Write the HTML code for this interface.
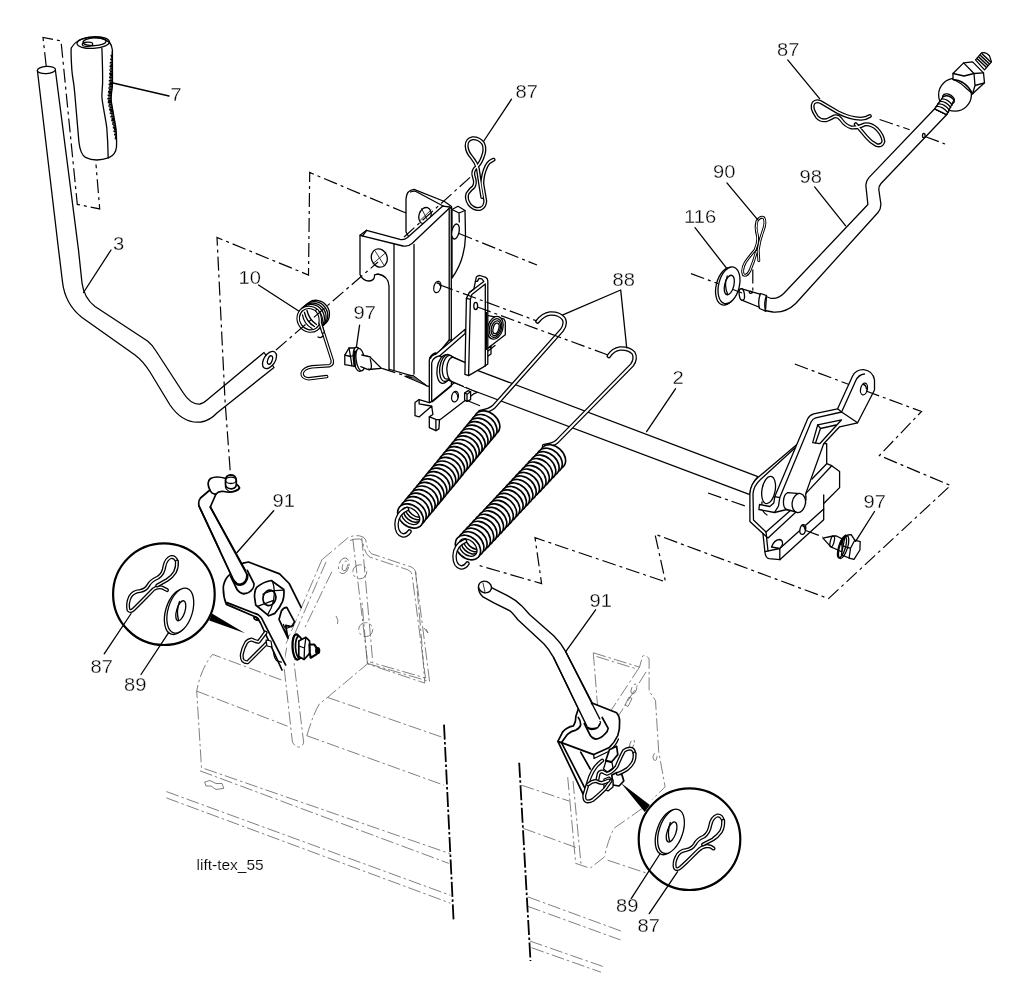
<!DOCTYPE html>
<html lang="en"><head><meta charset="utf-8"><title>lift-tex_55</title>
<style>
html,body{margin:0;padding:0;background:#fff;}
body{width:1024px;height:1003px;overflow:hidden;font-family:"Liberation Sans",sans-serif;}
svg{display:block;position:absolute;left:0;top:0;filter:grayscale(1);}
.l{fill:none;stroke:#000;stroke-width:1.3;stroke-linecap:round;stroke-linejoin:round;}
.f{fill:#fff;stroke:#000;stroke-width:1.3;stroke-linecap:round;stroke-linejoin:round;}
.b{fill:#fff;stroke:#000;stroke-width:1.7;stroke-linecap:round;stroke-linejoin:round;}
.lb{fill:none;stroke:#000;stroke-width:1.7;stroke-linecap:round;stroke-linejoin:round;}
.sp{fill:#fff;stroke:#000;stroke-width:1.65;}
.k{fill:#000;stroke:none;}
.t{fill:none;stroke:#000;stroke-width:0.8;stroke-linecap:round;}
.dd{fill:none;stroke:#000;stroke-width:1.2;stroke-dasharray:14 4 3 4;}
.g{fill:none;stroke:#555;stroke-width:0.75;stroke-dasharray:13 3 2.5 3;}
.gs{fill:none;stroke:#555;stroke-width:0.75;}
.bd{fill:none;stroke:#000;stroke-width:1.8;stroke-dasharray:15 2.5 2.5 2.5;}
.wo{fill:none;stroke:#000;stroke-width:4;stroke-linecap:round;stroke-linejoin:round;}
.wi{fill:none;stroke:#fff;stroke-width:1.4;stroke-linecap:round;stroke-linejoin:round;}
.so{fill:none;stroke:#000;stroke-width:4.6;stroke-linecap:round;stroke-linejoin:round;}
.si{fill:none;stroke:#fff;stroke-width:2;stroke-linecap:round;stroke-linejoin:round;}
text{font-family:"Liberation Sans",sans-serif;fill:#000;stroke:#fff;stroke-width:0.3px;}
.n{font-size:18px;}
.c{font-size:15.5px;stroke-width:0.15px;}
</style></head><body>
<svg width="1024" height="1003" viewBox="0 0 1024 1003">
<rect x="0" y="0" width="1024" height="1003" fill="#fff"/>

<!-- 01_ghost.svg -->
<g id="ghost">
<!-- left deck -->
<path class="g" d="M281.200,679.900 L212.600,654.400 Q201,668 196.700,691.100 L201.500,767.600 L450.400,853.800"/>
<path class="g" d="M196.700,691.100 L287.600,726.200"/>
<path class="g" d="M306.800,735.700 L444,785.200"/>
<path class="g" d="M327.500,697.400 L442.400,737.300"/>
<path class="g" d="M306.800,735.700 Q314,712 319.500,703.800 L327.500,697.400 L367.400,663.900 L424.800,683.100 L421.600,640 L415.600,571.800"/>
<path class="g" d="M367.400,663.900 L361.800,600"/>
<path class="g" d="M199.900,770.800 L448.800,863.400"/>
<path class="g" d="M166.400,791.600 L450.400,895.300"/>
<path class="g" d="M166.400,797.900 L450.400,903.200"/>
<path class="gs" d="M204.700,782 L210,780.500 L216,783.500 L222,783.500 L223.800,788.400 L216,789.500 L211,786 L206,786 Z"/>
<!-- ghost vertical plate left -->
<path class="g" d="M286.700,647.700 L283.700,663.700 L292.400,742.100 Q296,748 300.400,746.900 Q303.500,745 303.600,742.100 L294,662.300 L299,648"/>
<!-- ghost plate upper -->
<path class="g" d="M321.900,559.800 L347.800,537.900 Q353,535 359.800,535.900 Q365,537 365.700,539.900 Q367,550 371.700,553.800 L407.600,565.800 Q414,567 415.600,571.800 L429.600,681.500 L367.700,663.500"/>
<path class="g" d="M321.900,559.800 L286,643.600 M331.800,571.800 L303.900,629.600 M326,562 L292,640"/>
<path class="g" d="M352.800,538.900 L367.700,663.500 M361.800,537.900 L372.700,661.500"/>
<ellipse class="g" cx="343.800" cy="565.800" rx="5" ry="8" transform="rotate(15 343.800 565.800)"/>
<ellipse class="g" cx="345" cy="566" rx="2.500" ry="5" transform="rotate(15 345 566)"/>
<circle class="g" cx="359.800" cy="571.800" r="7"/>
<circle class="g" cx="365.700" cy="629.600" r="7"/>
<path class="gs" d="M336,616 Q339,620 337.500,624"/>
<path class="gs" d="M424,628 L428,633 L426,629"/>
<!-- right deck -->
<path class="g" d="M521.500,785.200 L569.300,801.100"/>
<path class="g" d="M523.100,828.300 L575.700,847.400"/>
<path class="g" d="M607.600,860.200 L645.900,872.900"/>
<path class="g" d="M527.900,896.900 L623.600,932"/>
<path class="g" d="M527.900,906.400 L620.400,939.900"/>
<path class="g" d="M529.800,941 L602.700,966.400"/>
<path class="g" d="M531.500,947.700 L601,972.200"/>
<path class="g" d="M567.700,777.200 L575.700,863.400 L590.100,868.200 L604.400,857 Q608,840 614,828.300 L645.900,805.900"/>
<path class="g" d="M573,781 L581,864"/>
<path class="g" d="M593.300,652.800 L639.500,667.100 L642.700,656 Q646,654 649.100,659.100 L649.100,691.100 L655.500,700.600 L658.700,751.700 L665.100,786.800 L652.300,799.500"/>
<path class="g" d="M593.300,652.800 L597.500,705"/>
<path class="g" d="M639.500,667.100 L610,712 M646,672 L619,715"/>
<ellipse class="g" cx="634" cy="689" rx="2.500" ry="5" transform="rotate(20 634 689)"/>
<ellipse class="g" cx="632" cy="744" rx="2" ry="4.500" transform="rotate(20 632 744)"/>
<ellipse class="g" cx="655" cy="757" rx="2" ry="3.500"/>
<!-- bold -->
<path class="bd" d="M444,724.600 L453.600,920.800"/>
<path class="bd" d="M519.200,762.800 L530.500,961"/>
<!-- doubled ghost edges -->
<path class="g" d="M350,540.500 Q354,538.500 359.800,539 Q362.500,540 363,542.500 Q364.500,553 369.500,557 L405.500,569 Q411,570.500 412,574.500 L425.500,678 L370,662"/>
<path class="g" d="M596.500,656.500 L637,669"/>
<path class="gs" d="M625,705 l4,-8 l3,1.500 l-4,8 z M612,722 l3,-6 l2.500,1.200 l-3,6 z"/>
</g>

<!-- 03_rod3_grip.svg -->
<g id="rod3">
<path class="f" d="M37.4,70.5 L58.6,250 L62.5,282 Q65,304 82,317.5 L135,355 Q143,361 150,372 L170,405 Q183,424 201,422 Q210,420.5 217.5,412.5 L274,367.5 L264,352.5 L207,400 Q204,403 200,404 Q191,405 183,392.5 L156,351 Q152,344.5 147.5,341 L95,306.5 Q84,298 82,283 L78.5,250 L55.3,69.5 Z"/>
<ellipse class="f" cx="46.4" cy="70" rx="9.1" ry="3.6" transform="rotate(-4 46.4 70)"/>
<ellipse class="f" cx="269.5" cy="360" rx="5.6" ry="9.6" transform="rotate(33 269.5 360)"/>
<ellipse class="l" cx="270" cy="360" rx="2.2" ry="4.4" transform="rotate(20 270 360)"/>
</g>
<g id="grip7">
<path class="f" d="M71.2,48 C70.8,56 71.5,64 71.9,70.5 C72.5,78 73.6,82 74,85.9 L74.7,92.8 L78.9,141.7 C79.8,150 81.5,155 85.5,157.4 C92,160.7 101,160.5 109,157.7 C113.5,155.700 116,152 116.5,147 L116.6,141.7 C116.6,136 116.4,132 115.9,127.8 L111.5,103 C110.8,99 111,96 111.6,92 C112.3,88 112.6,86 112.5,83 L112.4,50 C112,44 108,39.500 100,38 C90,36 77,38 71.2,48 Z"/>
<ellipse class="l" cx="93.2" cy="42.6" rx="16.2" ry="5.8" transform="rotate(-3 93.2 42.6)"/>
<ellipse class="l" cx="94.5" cy="41.8" rx="11.5" ry="3.9" transform="rotate(-3 94.5 41.8)"/>
<ellipse class="l" cx="87.5" cy="44.2" rx="5.2" ry="2.1" transform="rotate(-3 87.5 44.2)"/>
<path class="l" d="M101.9,48.2 C102.3,60 102.8,72 102.6,83 C102.4,89 101.7,93 101.9,97 C102.5,105 105.6,118 106.8,127.8 C107.6,138 108,148 108.2,157.800"/>
<path d="M111.6,52.0h1.0 M111.6,53.8h1.0 M110.5,55.6h2.1 M111.1,57.4h1.6 M110.1,59.2h2.6 M110.7,61.0h2.0 M109.7,62.8h2.9 M110.4,64.6h2.3 M109.5,66.4h3.2 M110.2,68.2h2.5 M109.3,70.0h3.5 M110.0,71.8h2.8 M109.1,73.6h3.6 M109.8,75.4h2.9 M109.0,77.2h3.8 M109.7,79.0h3.1 M108.8,80.8h3.9 M109.6,82.6h3.2 M108.6,84.4h4.0 M109.2,86.2h3.3 M108.3,88.0h4.1 M108.9,89.8h3.3 M107.9,91.6h4.2 M108.5,93.4h3.4 M107.6,95.2h4.2 M108.2,97.0h3.4 M107.3,98.8h4.2 M108.1,100.6h3.4 M107.7,102.4h4.2 M108.8,104.2h3.3 M108.3,106.0h4.1 M109.5,107.8h3.3 M109.0,109.6h4.0 M110.2,111.4h3.2 M109.7,113.2h3.9 M110.9,115.0h3.1 M110.4,116.8h3.8 M111.6,118.6h2.9 M111.2,120.4h3.6 M112.4,122.2h2.8 M112.0,124.0h3.5 M113.2,125.8h2.5 M112.8,127.6h3.2 M113.9,129.4h2.3 M113.4,131.2h2.9 M114.5,133.0h2.0 M114.0,134.8h2.6 M115.1,136.6h1.6 M114.7,138.4h2.1 M115.9,140.2h1.0 M116.0,142.0h1.0" stroke="#000" stroke-width="1.600" fill="none"/>
</g>

<!-- 03z_torsion.svg -->
<g id="torsion10">
<!-- back coils -->
<ellipse class="f" cx="316.600" cy="313.400" rx="12.600" ry="13.400" transform="rotate(-35 316.600 313.400)"/>
<ellipse class="f" cx="314.900" cy="314.800" rx="12.600" ry="13.400" transform="rotate(-35 314.900 314.800)"/>
<ellipse class="f" cx="313.200" cy="316.200" rx="12.600" ry="13.400" transform="rotate(-35 313.200 316.200)"/>
<ellipse class="f" cx="311.500" cy="317.600" rx="12.600" ry="13.400" transform="rotate(-35 311.500 317.600)"/>
<!-- leg (behind front coil start) -->
<path class="wo" style="stroke-width:3.500" d="M320.200,322.900 L332.200,360.200 Q333,364.500 329.500,365.700 L311.900,366.800 Q303.500,368 302.100,373.400 Q302,378 308.600,378.800 L326.700,376.600"/>
<path class="wi" style="stroke-width:1.300" d="M320.200,322.900 L332.200,360.200 Q333,364.500 329.500,365.700 L311.900,366.800 Q303.500,368 302.100,373.400 Q302,378 308.600,378.800 L326.700,376.600"/>
<!-- front coil -->
<ellipse class="wo" style="stroke-width:3.500" cx="309.700" cy="319.200" rx="11.200" ry="12.200" transform="rotate(-35 309.700 319.200)"/>
<ellipse class="wi" style="stroke-width:1.300" cx="309.700" cy="319.200" rx="11.200" ry="12.200" transform="rotate(-35 309.700 319.200)"/>
<path class="wo" style="stroke-width:3.500" d="M317,310.500 Q321,316 320.200,322.900 L323,332"/>
<path class="wi" style="stroke-width:1.300" d="M317,310.500 Q321,316 320.200,322.900 L323,332"/>
<!-- inner arcs -->
<path class="l" d="M302.500,315 Q304,324 312,328.500 M304.500,312.500 Q306.500,322 314.500,326.500 M307,310.500 Q309,319.500 316.500,324.500"/>
<path class="l" d="M318,337 Q321,338.500 323,336"/>
</g>

<!-- 04_bracket_left.svg -->
<g id="bracketL">
<!-- back tab (top middle) -->
<path class="f" d="M406,232 L406,199 Q406.500,190 414,189.300 L444.500,201.500 L451.500,206.500 L452,215 L414,246 Z"/>
<path class="l" d="M410.500,192 Q413,190.800 415.500,191.300 L444,206.500"/>
<ellipse class="f" cx="425" cy="215.600" rx="6" ry="8.300" transform="rotate(18 425 215.600)"/>
<path class="t" d="M419.500,221 L431,210 M421.500,208.500 L428.500,222"/>
<!-- right tab -->
<path class="f" d="M452,209.500 L458,206.300 L465,210.500 L465.500,236 Q465,260 452,278 Z"/>
<path class="l" d="M452,209.500 L459,213 L465,210.500 M459,213 L459.300,222"/>
<ellipse class="f" cx="455.500" cy="231.500" rx="3.600" ry="7.600" transform="rotate(12 455.500 231.500)"/>
<!-- main body: left flange + web -->
<path class="f" d="M360,235.300 L366.600,230.300 L400,239.400 Q404,240.300 407.500,237.500 L442.500,206.200 L450,207 L451.300,209 L451.300,340 L449.200,340 L431,362 L431,386.500 L427.300,386.200 L413,376.100 L390,369.500 L389,369.500 L389,286 Q388.500,276 378,274 L374.500,274.800 Q375,280.500 369,281 Q363,281 360,274.500 Z"/>
<path class="l" d="M360,235.300 L403,246 Q408,247 412,243.500 L450,207.500"/>
<path class="l" d="M394,244.500 L394,370.500 M414,244.500 L414,374 M449.200,209 L449.200,340"/>
<path class="l" d="M366.600,230.300 L362.500,236"/>
<ellipse class="f" cx="379.300" cy="258" rx="7.800" ry="9.300" transform="rotate(-20 379.300 258)"/>
<path class="t" d="M373,263.500 L386,252.500 M375.500,251.500 L383.500,264.500"/>
<ellipse class="f" cx="437.300" cy="287" rx="3.400" ry="5.800" transform="rotate(15 437.300 287)"/>
<path class="l" d="M437,283 Q440,283 440.500,286"/>
<!-- bottom shading of bracket -->
<path d="M404.600,376.300 L413,375.300 L426.500,385.600 Z" fill="#666" stroke="#000" stroke-width="1"/>
</g>
<g id="innerBracket">
<!-- weld nut -->
<path class="f" d="M485.800,311.800 L487.300,315.300 L503.800,318.800 L505.300,321.800 L505.300,334.800 L485.800,349.700 Z"/>
<path class="f" d="M485.800,349.700 L485.800,357.500 L491,354 L491,346 Z"/>
<path class="l" d="M486,352.500 L495,345.500"/>
<ellipse class="f" cx="495.300" cy="327.800" rx="7.600" ry="11.600" transform="rotate(16 495.300 327.800)"/>
<ellipse class="l" cx="495.500" cy="328" rx="6" ry="9.600" transform="rotate(16 495.500 328)"/>
<ellipse class="l" cx="495.800" cy="328.200" rx="4.400" ry="7.600" transform="rotate(16 495.800 328.200)"/>
<ellipse class="l" cx="496" cy="328.400" rx="2.800" ry="5.400" transform="rotate(16 496 328.400)"/>
<!-- base plate -->
<path class="f" d="M415,402.600 L419.100,399.600 L429.300,402.600 L431.700,401.400 L451.400,385.200 L456,381 L478,392 L474.200,393.600 L441.300,418.700 L439.500,419.900 L438.900,428.900 L435.900,430.700 L429.300,427.700 L429.300,416.900 L432.900,414.500 L431.700,406.100 L419.100,416.900 L415,415.700 Z"/>
<path class="l" d="M419.100,403.800 L428.100,405.500 L431.700,406.100 M419.100,403.800 L419.100,399.600 M429.300,416.900 L435.900,419.300 L439.500,419.900 M435.900,419.300 L435.900,430.700"/>
<path d="M431.700,401.600 L451.600,385.200" stroke="#000" stroke-width="2.200" fill="none"/>
<ellipse class="f" cx="455" cy="396.600" rx="3.300" ry="5.300" transform="rotate(12 455 396.600)"/>
<path class="l" d="M454.500,392 Q457.500,393 457.800,397"/>
<path class="f" d="M464.600,393 L468.200,390.600 L470.600,391.800 L470.600,399.600 L467,401.400 L464.600,400.200 Z"/>
<path class="l" d="M464.600,393 L467,394.200 L470.600,391.800 M467,394.200 L467,401.400"/>
<!-- bushing plate with diagonal strap -->
<path class="f" d="M429.300,402.600 L429.300,360 Q430,355.200 435.900,354.100 L465.200,329.200 L465.200,333.600 L439.500,355.900 L452,362 L451.400,385.200 L431.700,401.400 Z"/>
<path class="l" d="M431.700,401.400 L431.700,363 Q432.500,357.500 439.500,355.900"/>
<path d="M430,358.500 Q432,354 436.500,353" stroke="#000" stroke-width="2" fill="none"/>
<!-- shaft stub through bushing (behind upright) -->
<path class="f" d="M450,355.500 L465.200,362.800 L478,370.500 L478,392.500 L471.800,390 L447.900,379.800 Z"/>
<ellipse class="f" cx="444.300" cy="369.100" rx="7.200" ry="14.400" transform="rotate(8 444.300 369.100)"/>
<ellipse class="f" cx="446.500" cy="368" rx="6.800" ry="13.600" transform="rotate(8 446.500 368)"/>
<ellipse class="f" cx="448.300" cy="367.300" rx="5.900" ry="12" transform="rotate(8 448.300 367.300)"/>
<path class="f" d="M452.600,357.100 L466,362.800 L466,387.500 L451.500,381.300 Q447,378.500 446.800,368.500 Q447.500,358.500 452.600,357.100 Z" style="stroke:none"/>
<path class="l" d="M452.600,357.100 L466,362.800 M466,387.500 L451.500,381.300 Q447,378.500 446.800,368.500 Q447.500,358.500 452.600,357.100"/>
</g>

<!-- 05_shaft.svg -->
<g id="shaft2">
<!-- shaft -->
<path d="M476,369.800 L757.900,476.600 Q750.500,484 749.900,494.600 L471.800,390 L464,386.700 L464,364 Z" fill="#fff" stroke="none"/>
<path class="l" d="M476,369.800 L757.900,476.600 Q750.500,484 749.900,494.600 L471.800,390 L466,387.500"/>
<!-- right bracket back plate -->
<path class="f" d="M797.800,443.700 L757.900,477.600 Q750.500,484 749.900,493.600 L749.900,521.500 L762.900,533.500 L764.900,551.700 Q765.500,558 769,558.700 L779.800,559.700 L823.700,519.800 L823.700,503.500 L839.600,487.600 L839.600,471.600 L831.700,465.700 L826.700,463.700 L826.700,443.700 Z"/>
<path class="l" d="M795.500,447.500 L760.500,479.600 Q753.500,486 753,494 L753.500,520 L766,532 L768,551"/>
<path class="l" d="M766,532 L805.700,497 M762.900,533.500 L768,538 L805.700,503"/>
<path class="l" d="M779.800,559.700 L779.800,548.500 M764.900,551.700 L779.800,548.500 L823.700,509"/>
<path class="l" d="M831.700,465.700 L805.700,493.600 M826.700,463.700 L812,479 M815,446 L808,466"/>
<path class="l" d="M823.700,503.500 L823.700,495"/>
<path class="f" d="M771.500,547 Q774,540 779.500,539.500 Q783,540 782.500,544.500 L779.800,548.500 Z"/>
<ellipse class="f" cx="768.600" cy="490" rx="6.600" ry="13.800" transform="rotate(10 768.600 490)"/>
<path class="l" d="M762,502 Q761,512 767,515"/>
<!-- arm with upper tab -->
<path class="f" d="M837.600,408.800 L852.600,376 Q856,369.500 863.600,369.700 Q873,371 874.500,380 L874.500,390 L857.600,422.800 L839.600,426.800 L823.700,443.700 L805.700,493.600 L806,500 L800,511 L786.800,509.500 L774.500,512.500 L758.900,509.500 L759.500,504.500 L769.800,506.500 L773.800,503 L774.800,496.600 L807.700,418.800 Q809.500,415 813.700,413.800 Z"/>
<path class="l" d="M841.600,412 L855.600,381 Q858.500,374.500 864.500,374 M841.600,412 L815.700,417.800 Q812.500,418.800 811.200,421.800 L779.800,497.600 L778.500,506 L774.500,512.500 M779.800,497.600 L774.800,496.600"/>
<path class="l" d="M841.600,412 L857.600,422.800 M841.600,412 L837.600,408.800"/>
<path class="f" d="M817.700,424.800 L841.600,419.800 L819.700,443.700 L812.700,442.700 Z"/>
<path class="l" d="M817.700,424.800 L820.500,428.500 L815.500,443 M820.500,428.500 L836,425"/>
<ellipse class="f" cx="864" cy="389" rx="3.400" ry="6" transform="rotate(12 864 389)"/>
<path class="l" d="M863.500,384.500 Q866,385 866.500,389"/>
<!-- pin -->
<path class="f" d="M787.800,492.600 L799.800,493.600 L797.800,512.500 L786.800,509.500 Q783,508 783.500,501 Q784,494 787.800,492.600 Z"/>
<ellipse class="f" cx="798.800" cy="503" rx="6.600" ry="9.600" transform="rotate(10 798.800 503)"/>
<!-- base hole -->
<ellipse class="f" cx="802.800" cy="529.500" rx="2.800" ry="5" transform="rotate(12 802.800 529.500)"/>
<path class="l" d="M802.300,525.500 Q804.800,526 805,529.500"/>
</g>
<g id="bolt97R">
<path class="f" d="M822.900,538.100 L833,536 L836.500,536 L842.100,538.800 L842,552 L837.900,550 L830.900,546.900 Z"/>
<ellipse class="l" cx="832.200" cy="541.500" rx="1.900" ry="5.500" transform="rotate(14 832.200 541.500)"/>
<path class="f" d="M845,536.500 L847.700,535 L851.200,534.700 L854.700,540.200 L860.200,541.600 L859.900,550 L854,559.400 L849.100,558 L841.400,554.900 Z"/>
<path class="l" d="M854.700,540.200 L850.500,548.300 L849.100,558 M850.500,548.300 L842.800,545.800"/>
<ellipse class="l" cx="843.600" cy="547" rx="4" ry="12" transform="rotate(17 843.600 547)"/>
<ellipse class="l" cx="842" cy="547.300" rx="3.400" ry="11" transform="rotate(17 842 547.300)"/>
<path d="M840.500,545 Q842,538 846.500,535.500" stroke="#000" stroke-width="3" fill="none"/>
</g>
<g id="bolt97L">
<path class="f" d="M358,354.500 L369.900,356.900 L381.300,368.300 L368.100,369.500 L358,365.900 Z"/>
<ellipse class="l" cx="368.700" cy="363.400" rx="2.400" ry="6.400" transform="rotate(-10 368.700 363.400)"/>
<path class="f" d="M344.800,355.100 L349,348 L355.600,348 L357,352 L357,366.500 L352,365.900 L344.800,364.700 Z"/>
<path class="l" d="M349,348 L350.500,356.500 L344.800,355.100 M350.500,356.500 L352,365.900 M350.500,356.500 L356,354.500"/>
<ellipse class="f" cx="358" cy="359.300" rx="4.600" ry="12.200" transform="rotate(-8 358 359.300)"/>
<ellipse class="f" cx="360.300" cy="359.600" rx="4.200" ry="11.400" transform="rotate(-8 360.300 359.600)"/>
<path class="f" d="M361.500,354.800 L369.900,356.900 L368.100,369.500 L360.500,366.500 Z" style="stroke:none"/>
<path class="l" d="M361.800,355 L369.900,356.900 M360.800,366.700 L368.100,369.500"/>
<path d="M355,350.500 Q353.500,358 354.800,367" stroke="#000" stroke-width="2.400" fill="none"/>
</g>

<!-- 05z_upright.svg -->
<g id="upright">

<!-- upright -->
<path class="f" d="M466.400,298.400 L469.400,292.400 L473.900,288.900 L475.400,281.400 L476.400,276.900 Q478,275.300 479.900,275.500 L485.800,277.400 Q487.800,278.500 487.800,280.900 L487.800,364 L482.800,367.400 L468.600,375.600 L464.900,374.400 Z"/>
<path class="l" d="M470.400,299.400 L468.600,375.600 M466.400,298.400 L470.400,299.400 L471.900,294.400 L485.300,283.900 L485.300,366 M469.400,292.400 L483.800,281.400 L481.800,278.900 L478.900,278.400 L477.400,281.400 L475.400,281.400"/>
<path d="M486.300,312 L486.300,350" stroke="#000" stroke-width="1.800" fill="none"/>
<ellipse class="f" cx="475.700" cy="305.900" rx="1.900" ry="3.600"/>
</g>

<!-- 06_springs.svg -->
<g id="springs">
<!-- wire 88 left -->
<path class="so" d="M537.500,321.500 Q543,314.500 550,313.500 Q559,313 563.500,318.500 Q566.500,323.500 562,330 L494,406.500 Q490,410.500 480,412"/>
<path class="si" d="M537.500,321.500 Q543,314.500 550,313.500 Q559,313 563.500,318.500 Q566.500,323.500 562,330 L494,406.500 Q490,410.500 480,412"/>
<!-- wire 88 right -->
<path class="so" d="M608.800,356 Q613,349.500 620,348.500 Q629,348 633.500,353 Q636.500,358.500 632,365 L557,441.500 Q553,445 544,446"/>
<path class="si" d="M608.800,356 Q613,349.500 620,348.500 Q629,348 633.500,353 Q636.500,358.500 632,365 L557,441.500 Q553,445 544,446"/>
<ellipse class="sp" cx="487.0" cy="423.0" rx="10.5" ry="14.2" transform="rotate(129.4 487.0 423.0)"/>
<ellipse class="sp" cx="484.1" cy="426.6" rx="10.5" ry="14.2" transform="rotate(129.4 484.1 426.6)"/>
<ellipse class="sp" cx="481.1" cy="430.2" rx="10.5" ry="14.2" transform="rotate(129.4 481.1 430.2)"/>
<ellipse class="sp" cx="478.2" cy="433.7" rx="10.5" ry="14.2" transform="rotate(129.4 478.2 433.7)"/>
<ellipse class="sp" cx="475.2" cy="437.3" rx="10.5" ry="14.2" transform="rotate(129.4 475.2 437.3)"/>
<ellipse class="sp" cx="472.3" cy="440.9" rx="10.5" ry="14.2" transform="rotate(129.4 472.3 440.9)"/>
<ellipse class="sp" cx="469.3" cy="444.5" rx="10.5" ry="14.2" transform="rotate(129.4 469.3 444.5)"/>
<ellipse class="sp" cx="466.4" cy="448.0" rx="10.5" ry="14.2" transform="rotate(129.4 466.4 448.0)"/>
<ellipse class="sp" cx="463.5" cy="451.6" rx="10.5" ry="14.2" transform="rotate(129.4 463.5 451.6)"/>
<ellipse class="sp" cx="460.5" cy="455.2" rx="10.5" ry="14.2" transform="rotate(129.4 460.5 455.2)"/>
<ellipse class="sp" cx="457.6" cy="458.8" rx="10.5" ry="14.2" transform="rotate(129.4 457.6 458.8)"/>
<ellipse class="sp" cx="454.6" cy="462.3" rx="10.5" ry="14.2" transform="rotate(129.4 454.6 462.3)"/>
<ellipse class="sp" cx="451.7" cy="465.9" rx="10.5" ry="14.2" transform="rotate(129.4 451.7 465.9)"/>
<ellipse class="sp" cx="448.8" cy="469.5" rx="10.5" ry="14.2" transform="rotate(129.4 448.8 469.5)"/>
<ellipse class="sp" cx="445.8" cy="473.1" rx="10.5" ry="14.2" transform="rotate(129.4 445.8 473.1)"/>
<ellipse class="sp" cx="442.9" cy="476.7" rx="10.5" ry="14.2" transform="rotate(129.4 442.9 476.7)"/>
<ellipse class="sp" cx="439.9" cy="480.2" rx="10.5" ry="14.2" transform="rotate(129.4 439.9 480.2)"/>
<ellipse class="sp" cx="437.0" cy="483.8" rx="10.5" ry="14.2" transform="rotate(129.4 437.0 483.8)"/>
<ellipse class="sp" cx="434.0" cy="487.4" rx="10.5" ry="14.2" transform="rotate(129.4 434.0 487.4)"/>
<ellipse class="sp" cx="431.1" cy="491.0" rx="10.5" ry="14.2" transform="rotate(129.4 431.1 491.0)"/>
<ellipse class="sp" cx="428.2" cy="494.5" rx="10.5" ry="14.2" transform="rotate(129.4 428.2 494.5)"/>
<ellipse class="sp" cx="425.2" cy="498.1" rx="10.5" ry="14.2" transform="rotate(129.4 425.2 498.1)"/>
<ellipse class="sp" cx="422.3" cy="501.7" rx="10.5" ry="14.2" transform="rotate(129.4 422.3 501.7)"/>
<ellipse class="sp" cx="419.3" cy="505.3" rx="10.5" ry="14.2" transform="rotate(129.4 419.3 505.3)"/>
<ellipse class="sp" cx="416.4" cy="508.8" rx="10.5" ry="14.2" transform="rotate(129.4 416.4 508.8)"/>
<ellipse class="sp" cx="413.4" cy="512.4" rx="10.5" ry="14.2" transform="rotate(129.4 413.4 512.4)"/>
<ellipse class="sp" cx="410.5" cy="516.0" rx="10.5" ry="14.2" transform="rotate(129.4 410.5 516.0)"/>
<clipPath id="sc1"><ellipse cx="410.5" cy="516.0" rx="7.1" ry="10.4" transform="rotate(129.4 410.5 516.0)"/></clipPath>
<ellipse class="sp" style="stroke-width:1.3" cx="410.5" cy="516.0" rx="7.1" ry="10.4" transform="rotate(129.4 410.5 516.0)"/>
<g clip-path="url(#sc1)"><ellipse class="l" style="stroke-width:1.5" cx="412.5" cy="513.6" rx="7.1" ry="10.4" transform="rotate(129.4 412.5 513.6)"/><ellipse class="l" style="stroke-width:1.5" cx="414.4" cy="511.2" rx="7.1" ry="10.4" transform="rotate(129.4 414.4 511.2)"/><ellipse class="l" style="stroke-width:1.5" cx="416.4" cy="508.8" rx="7.1" ry="10.4" transform="rotate(129.4 416.4 508.8)"/></g>
<ellipse class="sp" cx="553.0" cy="457.0" rx="10.5" ry="14.2" transform="rotate(133.2 553.0 457.0)"/>
<ellipse class="sp" cx="549.7" cy="460.5" rx="10.5" ry="14.2" transform="rotate(133.2 549.7 460.5)"/>
<ellipse class="sp" cx="546.5" cy="464.0" rx="10.5" ry="14.2" transform="rotate(133.2 546.5 464.0)"/>
<ellipse class="sp" cx="543.2" cy="467.4" rx="10.5" ry="14.2" transform="rotate(133.2 543.2 467.4)"/>
<ellipse class="sp" cx="539.9" cy="470.9" rx="10.5" ry="14.2" transform="rotate(133.2 539.9 470.9)"/>
<ellipse class="sp" cx="536.7" cy="474.4" rx="10.5" ry="14.2" transform="rotate(133.2 536.7 474.4)"/>
<ellipse class="sp" cx="533.4" cy="477.9" rx="10.5" ry="14.2" transform="rotate(133.2 533.4 477.9)"/>
<ellipse class="sp" cx="530.1" cy="481.4" rx="10.5" ry="14.2" transform="rotate(133.2 530.1 481.4)"/>
<ellipse class="sp" cx="526.8" cy="484.8" rx="10.5" ry="14.2" transform="rotate(133.2 526.8 484.8)"/>
<ellipse class="sp" cx="523.6" cy="488.3" rx="10.5" ry="14.2" transform="rotate(133.2 523.6 488.3)"/>
<ellipse class="sp" cx="520.3" cy="491.8" rx="10.5" ry="14.2" transform="rotate(133.2 520.3 491.8)"/>
<ellipse class="sp" cx="517.0" cy="495.3" rx="10.5" ry="14.2" transform="rotate(133.2 517.0 495.3)"/>
<ellipse class="sp" cx="513.8" cy="498.8" rx="10.5" ry="14.2" transform="rotate(133.2 513.8 498.8)"/>
<ellipse class="sp" cx="510.5" cy="502.2" rx="10.5" ry="14.2" transform="rotate(133.2 510.5 502.2)"/>
<ellipse class="sp" cx="507.2" cy="505.7" rx="10.5" ry="14.2" transform="rotate(133.2 507.2 505.7)"/>
<ellipse class="sp" cx="504.0" cy="509.2" rx="10.5" ry="14.2" transform="rotate(133.2 504.0 509.2)"/>
<ellipse class="sp" cx="500.7" cy="512.7" rx="10.5" ry="14.2" transform="rotate(133.2 500.7 512.7)"/>
<ellipse class="sp" cx="497.4" cy="516.2" rx="10.5" ry="14.2" transform="rotate(133.2 497.4 516.2)"/>
<ellipse class="sp" cx="494.2" cy="519.7" rx="10.5" ry="14.2" transform="rotate(133.2 494.2 519.7)"/>
<ellipse class="sp" cx="490.9" cy="523.1" rx="10.5" ry="14.2" transform="rotate(133.2 490.9 523.1)"/>
<ellipse class="sp" cx="487.6" cy="526.6" rx="10.5" ry="14.2" transform="rotate(133.2 487.6 526.6)"/>
<ellipse class="sp" cx="484.3" cy="530.1" rx="10.5" ry="14.2" transform="rotate(133.2 484.3 530.1)"/>
<ellipse class="sp" cx="481.1" cy="533.6" rx="10.5" ry="14.2" transform="rotate(133.2 481.1 533.6)"/>
<ellipse class="sp" cx="477.8" cy="537.1" rx="10.5" ry="14.2" transform="rotate(133.2 477.8 537.1)"/>
<ellipse class="sp" cx="474.5" cy="540.5" rx="10.5" ry="14.2" transform="rotate(133.2 474.5 540.5)"/>
<ellipse class="sp" cx="471.3" cy="544.0" rx="10.5" ry="14.2" transform="rotate(133.2 471.3 544.0)"/>
<ellipse class="sp" cx="468.0" cy="547.5" rx="10.5" ry="14.2" transform="rotate(133.2 468.0 547.5)"/>
<clipPath id="sc2"><ellipse cx="468.0" cy="547.5" rx="7.1" ry="10.4" transform="rotate(133.2 468.0 547.5)"/></clipPath>
<ellipse class="sp" style="stroke-width:1.3" cx="468.0" cy="547.5" rx="7.1" ry="10.4" transform="rotate(133.2 468.0 547.5)"/>
<g clip-path="url(#sc2)"><ellipse class="l" style="stroke-width:1.5" cx="470.1" cy="545.2" rx="7.1" ry="10.4" transform="rotate(133.2 470.1 545.2)"/><ellipse class="l" style="stroke-width:1.5" cx="472.2" cy="543.0" rx="7.1" ry="10.4" transform="rotate(133.2 472.2 543.0)"/><ellipse class="l" style="stroke-width:1.5" cx="474.4" cy="540.7" rx="7.1" ry="10.4" transform="rotate(133.2 474.4 540.7)"/></g>
<!-- hooks -->
<path class="so" d="M407,509 Q397,513 396.500,524 Q396.500,534 403,535.500 Q407,535.500 409.500,531.500"/>
<path class="si" d="M407,509 Q397,513 396.500,524 Q396.500,534 403,535.500 Q407,535.500 409.500,531.500"/>
<path class="so" d="M465,541 Q455,545 454.500,556 Q454.500,566 461,567.500 Q465,567.500 467.500,563.500"/>
<path class="si" d="M465,541 Q455,545 454.500,556 Q454.500,566 461,567.500 Q465,567.500 467.500,563.500"/>
</g>

<!-- 07_rod98.svg -->
<g id="rod98">
<!-- rod body -->
<path class="f" d="M934.700,108.800 L868.900,177.600 Q865.500,181.500 865.900,186 L867.900,204.500 L783.700,293.500 Q777,300 770,298 L766,296.500 L764.500,310.500 L773,312 Q786,313 795.700,303.500 L878,212.500 Q881.300,208.500 880.800,203.500 L878.800,189.500 Q878.800,186 881,183.500 L946.600,114.700 Z"/>
<!-- pin end -->
<path class="f" d="M741.800,288.800 L760,294.200 L760,307.500 L741.800,300.200 Z"/>
<ellipse class="f" cx="741.800" cy="294.500" rx="2.600" ry="5.800" transform="rotate(-8 741.800 294.500)"/>
<path class="f" d="M760.500,293.500 L766.500,295.500 L765.500,311 L759.500,308.500 Q757.500,301 760.500,293.500 Z"/>
<path class="l" d="M766.500,295.500 Q763.500,303 765.500,311"/>
<ellipse class="l" cx="750.800" cy="292.300" rx="1.600" ry="1"/>
<!-- threads -->
<path class="f" d="M934.700,108.800 L943.500,96 L954.500,102.500 L946.600,114.700 Z"/>
<path class="l" d="M936.300,106.200 L948.200,112.200 M937.900,103.600 L949.800,109.700 M939.500,101 L951.400,107.200 M941.100,98.400 L953,104.700"/>
<!-- ball -->
<circle class="f" cx="955" cy="94.800" r="16.400"/>
<ellipse class="f" cx="948.500" cy="98.800" rx="6.500" ry="4.300" transform="rotate(30 948.500 98.800)"/>
<path class="f" d="M934.700,108.800 L943,97 Q948,93.500 954,100 L946.600,114.700 Z"/>
<path class="l" d="M936.500,106.500 Q942,106 947.800,112.500 M938.300,104 Q944,103.500 949.300,110 M940,101.500 Q945.500,101 950.800,107.500 M941.700,99 Q947,98.500 952.300,105"/>
<!-- hex nut -->
<path class="f" d="M953,73.500 L963.600,62.900 L972.600,61.900 L983.500,72.900 L984.500,82.800 L972.600,93.800 L967,89 Q960,82 953,79.500 Z"/>
<path class="l" d="M963.600,62.900 L974,73.500 L983.500,72.900 M974,73.500 L975,85.500 L984.500,82.800 M975,85.500 L972.600,93.800 M953,73.500 L964,76 L974,73.500"/>
<path class="l" d="M953,79.500 Q966,80.500 972.600,93.800"/>
<!-- stud -->
<path class="f" d="M975.500,59.900 L981.500,52.900 Q986,51.500 989.500,55.900 L991.500,61.900 L984.500,69.900 Z"/>
<path d="M977,58.500 L986.500,67.500 M978.500,56.700 L988,65.700 M980,55 L989.500,64 M981.500,53.300 L991,62.300" stroke="#000" stroke-width="1.500" fill="none"/>
<ellipse class="l" cx="923.800" cy="135.600" rx="1.300" ry="2.200"/>
</g>
<g id="washer116">
<ellipse class="f" cx="727" cy="286.300" rx="10.800" ry="19.200" transform="rotate(14 727 286.300)"/>
<ellipse class="f" cx="729" cy="285.300" rx="10.300" ry="18.800" transform="rotate(14 729 285.300)"/>
<ellipse class="f" cx="729.300" cy="285" rx="4.600" ry="10" transform="rotate(14 729.300 285)"/>
<path class="l" d="M727.300,276 Q723.500,285 727.800,294.500"/>
</g>

<!-- 08_hairpins.svg -->
<g id="hairpins">
<!-- 87 top right -->
<path id="hp1" class="wo" d="M869.900,116 Q866,118.500 861,118.800 Q850,118.500 837.800,112.200 L820.500,102 Q816,100 813.500,103 Q810.500,107.500 816.800,116.700 Q821,121.500 827,120 Q831.500,118 834,116.500 Q838,115.500 841,119.500 Q845,125.500 851,127.400 Q857,128.300 864.700,124.400 Q871,123.500 877,129 Q883,135.500 883.400,141.500 Q882,146.500 876.600,145.100 Q871,142.500 866.500,137 L855.700,124.200"/>
<path class="wi" d="M869.900,116 Q866,118.500 861,118.800 Q850,118.500 837.800,112.200 L820.500,102 Q816,100 813.500,103 Q810.500,107.500 816.800,116.700 Q821,121.500 827,120 Q831.500,118 834,116.500 Q838,115.500 841,119.500 Q845,125.500 851,127.400 Q857,128.300 864.700,124.400 Q871,123.500 877,129 Q883,135.500 883.400,141.500 Q882,146.500 876.600,145.100 Q871,142.500 866.500,137 L855.700,124.200"/>
<!-- 87 top middle -->
<path class="wo" d="M493.600,159.700 Q489,161.500 486.500,166 Q482.500,174 482.300,183.700 L485.300,201 Q485,206.500 481,208.500 Q475,210.500 469.600,204.600 Q465.500,198.500 467.500,193.500 Q470,189.500 473.500,187 Q476,183.500 474.100,177.700 Q472,172.500 475,168.500 Q480,164.500 482.500,157.500 Q486,149 483.100,143.300 Q479,138 472.500,138.300 Q466.500,139.500 466.600,146 Q467,152 471.500,157 Q476.500,163 477.900,169 L480.100,183.700 L482.300,197.100"/>
<path class="wi" d="M493.600,159.700 Q489,161.500 486.500,166 Q482.500,174 482.300,183.700 L485.300,201 Q485,206.500 481,208.500 Q475,210.500 469.600,204.600 Q465.500,198.500 467.500,193.500 Q470,189.500 473.500,187 Q476,183.500 474.100,177.700 Q472,172.500 475,168.500 Q480,164.500 482.500,157.500 Q486,149 483.100,143.300 Q479,138 472.500,138.300 Q466.500,139.500 466.600,146 Q467,152 471.500,157 Q476.500,163 477.900,169 L480.100,183.700 L482.300,197.100"/>
<!-- 90 -->
<path class="wo" style="stroke-width:2.900" d="M758.800,260.600 L758.200,250 Q759.500,240 763,231 Q766.500,222 763.700,217.500 Q760,216 757,221 Q755,228 757.500,236 Q758.500,243 755,250 Q749,257 745.500,262 Q741,270 743.500,275 Q747,276.500 750,270.500 Q754,261 756.500,251.500"/>
<path class="wi" style="stroke-width:1" d="M758.800,260.600 L758.200,250 Q759.500,240 763,231 Q766.500,222 763.700,217.500 Q760,216 757,221 Q755,228 757.500,236 Q758.500,243 755,250 Q749,257 745.500,262 Q741,270 743.500,275 Q747,276.500 750,270.500 Q754,261 756.500,251.500"/>
</g>

<!-- 09_lowerleft.svg -->
<g id="lowerLeft">
<!-- link plate -->
<path d="M243.100,563.200 L248.500,562 L279.600,573.900 L289.200,583.500 L301.100,607.400 L284.400,645.700 L285.600,664.900 L282,670 L260.500,623 Q258,618.500 255.700,617 L226.400,604.400 Q222.800,596 223.400,585.900 Q225,578 230.600,573.900 Z" fill="#fff" stroke="none"/>
<path class="lb" d="M301.100,607.400 L289.200,583.500 L279.600,573.900 L248.500,562 L243.100,563.200 L230.600,573.900 Q225,578 223.400,585.900 Q222.800,596 226.400,604.400 L255.700,617 Q258,618.500 260.500,623 L282,670"/>
<path class="lb" d="M227,602.600 L258.100,614.600 Q261,616.500 262.900,620.600 L285.600,664.900"/>
<ellipse class="lb" cx="256.200" cy="618.600" rx="2.400" ry="1.300" transform="rotate(25 256.200 618.600)"/>
<!-- square hole -->
<path class="b" d="M254.500,596.700 Q254.500,590 256.900,587.100 Q263,582 271.200,580.500 L283.800,589.500 Q284.500,596 282.600,601.400 Q279.500,608.500 274.800,613.400 L268.800,615.800 L255.700,605 Z"/>
<ellipse class="lb" cx="269.400" cy="597.900" rx="6.400" ry="7.800" transform="rotate(15 269.400 597.900)"/>
<path class="lb" d="M272.400,581.100 Q275.500,590 273.600,600.300 Q272,608 267.600,614.600 M258.100,606.200 Q266,603 273.600,600.300 M262.900,594.300 Q270,590.500 274.800,590.700 L283.800,590.100" style="stroke-width:1.300"/>
<!-- lower slot -->
<path class="b" d="M279,619.400 L281.400,611 Q283.500,607.500 286.800,607.400 L294.600,621.800 L291.600,626.600 L285.600,625.400 L288,638.500 Z"/>
<path class="lb" d="M283.500,624.500 Q284,628.500 287.500,628 L293.500,625.500 M284,629 L288.500,637" style="stroke-width:1.300"/>
<!-- rod 91 -->
<path class="b" d="M209.900,490 Q206,482 210.500,478.500 Q216,475.500 226,478.500 L236,484 Q241,487 238,489.500 Q232,493.500 224,491.500 Q219,490.500 216,494 L210.300,507 L247.300,573.900 L250.900,590.700 L243.700,593.700 L237.100,589.500 L234.100,581.100 L199,506 Q198,501 200.500,498 Z"/>
<path class="lb" d="M216,494 Q212,494.500 209.900,490"/>
<!-- boss -->
<path class="b" d="M230.600,576.300 L237.100,589.500 Q240,593.500 243.700,593.700 Q248.500,593.500 250.900,590.700 Q254.500,587.500 253.900,583.500 L247.300,570.300"/>
<path class="b" d="M219.800,550 L234.100,581.100 Q236,584.500 240,584.700 Q244,584 245.500,581.500 Q247.500,579 247.300,575 L234.100,550" style="stroke:none"/>
<path d="M234.100,581.100 Q236,584.500 240,584.700 Q244,584 245.500,581.500 Q247.500,579 247.300,575" stroke="#000" stroke-width="2.600" fill="none" stroke-linecap="round"/>
<path class="lb" d="M199,506 L234.100,581.100 M210.300,507 L247.300,575"/>
<!-- ball end -->
<path class="b" d="M225.500,480.500 Q225.500,475 231,474.800 Q236.300,475.300 236.300,480.500 L236.300,484.500 Q236,488.500 231,488.800 Q226,488.500 225.500,484.500 Z"/>
<ellipse class="lb" cx="230.900" cy="480.300" rx="5.400" ry="3.200" style="stroke-width:1.300"/>
<path class="lb" d="M225.500,485 Q224.500,490 231,492 Q238,491.500 239.800,487.900" style="stroke-width:1.300"/>
<!-- hairpin clip -->
<path class="wo" d="M265.600,632.500 L258.600,641.900 Q255,641.200 251.600,639.500 Q248,640 246.100,642.700 Q243,648 241.800,654.400 Q241.500,659 243,660.600 Q245,662.500 247.700,662.200 L267.200,642.700"/>
<path class="wi" d="M265.600,632.500 L258.600,641.900 Q255,641.200 251.600,639.500 Q248,640 246.100,642.700 Q243,648 241.800,654.400 Q241.500,659 243,660.600 Q245,662.500 247.700,662.200 L267.200,642.700"/>
<path class="lb" d="M273.400,651.300 Q274,658 276.600,660.600 L281.300,662.200" style="stroke-width:1.300"/>
<path class="b" d="M266,640 L271,641 L272,647 L267,646 Z" style="stroke-width:1.200"/>
<!-- nut -->
<ellipse class="b" cx="296.800" cy="647" rx="4.300" ry="12.600" transform="rotate(-3 296.800 647)" style="stroke-width:2.300"/>
<ellipse class="b" cx="299.300" cy="647.300" rx="3.800" ry="11" transform="rotate(-3 299.300 647.300)"/>
<path class="b" d="M298.800,640.900 L305.900,637.300 L309.500,640.900 L310.100,652.900 L304.100,659.500 L298.800,656.500 Z"/>
<path class="lb" d="M305.900,637.300 L304.500,648 L298.800,646 M304.500,648 L304.100,659.500" style="stroke-width:1.300"/>
<path class="b" d="M309.500,644.500 L314.300,644.500 L316.700,648.100 L316.700,654.100 L310.700,657.700 L309.800,652.900 Z" style="stroke-width:2.200"/>
<ellipse class="k" cx="317.700" cy="650.700" rx="2.600" ry="3.600"/>
</g>

<!-- 10_lowerright.svg -->
<g id="lowerRight">
<!-- rod 91 right (upper part) -->
<path class="b" style="stroke-width:1.400" d="M492,587.900 L507.900,595.900 Q516,600 521.800,605.900 L529.800,614.800 L553.700,635.800 Q561,643 565.700,651.700 L599.800,717.500 L586.700,725.900 L553.700,657.700 Q549,649 543.800,643.700 L517.900,619.800 Q513,613.500 509.900,610.800 L493.900,602.900 L483,596.900 Q478,592 478.500,587 Z"/>
<ellipse class="b" style="stroke-width:1.400" cx="485" cy="587" rx="6.600" ry="5.700" transform="rotate(20 485 587)"/>
<path class="t" d="M483,583 L485,592"/>
<!-- U bracket legs -->
<path class="b" d="M557.900,741.400 L583.100,794.100 L585.500,789.300 L561.500,742.600 Z"/>
<path class="lb" d="M580.700,752.200 L590.300,769"/>
<!-- U bracket -->
<path class="b" d="M557.900,741.400 L562.700,731.900 Q567,727 573.500,725.900 Q576,722 575.900,716.300 L578.300,709.100 L592.600,703.200 L616.600,712.700 Q619.600,716 619.600,721.100 Q620,729 617.800,735.500 Q614.500,742.500 609.400,747.400 L593.800,754.600 L561.500,742.600 Z"/>
<path class="lb" d="M561.500,742.600 L567.500,734.300 Q571,731 575.900,730.100 Q580,728 580.700,724.700 Q580.500,720 578.300,717.500"/>
<path class="lb" d="M593.800,754.600 L594,758.500 L609.500,751 Q616,745.500 618.500,739" style="stroke-width:1.300"/>
<!-- boss -->
<path class="b" d="M584.300,723.500 L590.300,735.500 Q593,739 596.200,739.100 Q601,738.500 604.600,734.300 Q608,731.500 608.200,728.300 L602.200,717.500"/>
<path d="M586.700,725.900 Q588.500,728.800 591.400,728.900 Q595,728.800 597.400,727.100 Q599.800,725 599.800,722.300" stroke="#000" stroke-width="2.600" fill="none" stroke-linecap="round"/>
<path d="M569.900,690 L586.700,725.900 Q591.400,728.900 597.400,727.100 L599.800,722.300 L584.300,690 Z" fill="#fff" stroke="none"/>
<path class="lb" style="stroke-width:1.400" d="M565.700,651.700 L599.800,719 M553.700,657.700 L586.700,725.900"/>
<!-- bolt under bracket -->
<path class="b" d="M609.400,749.800 L616.600,746.200 L617.800,754.600 L611.800,761.800 L605.800,760.600 Z"/>
<path class="b" d="M606,761 L612,762.500 L613,768 L607.500,772 L603.500,769 Z" style="stroke-width:1.300"/>
<!-- nuts cluster -->
<path class="b" d="M611.800,775 L617,772.500 L622,775 L623.800,781 L619,786 L613,785 Z"/>
<path class="b" d="M604,779 L609,777 L613,780 L613,787 L608,791 L604,789 Z" style="stroke-width:1.300"/>
<!-- hairpin A -->
<path class="wo" d="M634.500,753.400 Q633.500,748.500 629.700,748.600 Q626,749 623.800,751 Q620,758 616.600,766.600 Q612,772.500 607,773.800 Q604.500,773 602.200,771.400 Q599.500,771.500 598.600,773.800 L597.400,779.700"/>
<path class="wi" d="M634.500,753.400 Q633.500,748.500 629.700,748.600 Q626,749 623.800,751 Q620,758 616.600,766.600 Q612,772.500 607,773.800 Q604.500,773 602.200,771.400 Q599.500,771.500 598.600,773.800 L597.400,779.700"/>
<path class="wo" d="M634.500,753.400 Q635,758 633.300,761.800 Q631,766 627.300,769 Q623,772 617.800,773.800"/>
<path class="wi" d="M634.500,753.400 Q635,758 633.300,761.800 Q631,766 627.300,769 Q623,772 617.800,773.800"/>
<!-- hairpin B -->
<path class="wo" d="M602.200,760.600 Q596,765 592.600,771.400 Q589.500,777 587.900,783.300 L584.300,795.300 Q584,800.500 586.700,801.300 Q589.500,801.800 592.600,800.100 Q599,795 604.600,789.300 L610.600,780.900"/>
<path class="wi" d="M602.200,760.600 Q596,765 592.600,771.400 Q589.500,777 587.900,783.300 L584.300,795.300 Q584,800.500 586.700,801.300 Q589.500,801.800 592.600,800.100 Q599,795 604.600,789.300 L610.600,780.900"/>
<path class="wo" d="M588,784.500 Q592,781 596,781 Q599.500,783 602,783 Q605.500,782 608.500,780.500"/>
<path class="wi" d="M588,784.500 Q592,781 596,781 Q599.500,783 602,783 Q605.500,782 608.500,780.500"/>
</g>

<!-- 11_circles.svg -->
<g id="circles">
<path class="k" d="M211.900,613.500 L245.100,633.300 L209.200,620.500 Z"/>
<circle cx="163.900" cy="594.200" r="50.800" fill="#fff" stroke="#000" stroke-width="2.200"/>
<path class="k" d="M621,783 L649.900,805.100 L644.700,811.900 Z"/>
<circle cx="689.500" cy="839.200" r="50.800" fill="#fff" stroke="#000" stroke-width="2.200"/>
<!-- left circle contents: hairpin -->
<path class="wo" d="M176.900,561.400 Q175,556.500 171,557 Q166,559 164.500,566 Q163.500,574 158,577.500 Q151,580.500 148.500,585 Q146,590 140,591 Q133,591.500 130,597 Q127,603.500 128.500,610 Q130.500,612.500 134,609 L143,600 L153.600,589.200 Q157,586.500 162,587.500 L167,590.100"/>
<path class="wi" d="M176.900,561.400 Q175,556.500 171,557 Q166,559 164.500,566 Q163.500,574 158,577.500 Q151,580.500 148.500,585 Q146,590 140,591 Q133,591.500 130,597 Q127,603.500 128.500,610 Q130.500,612.500 134,609 L143,600 L153.600,589.200 Q157,586.500 162,587.500 L167,590.100"/>
<path class="wo" d="M176.900,561.400 Q177.500,567 175,572 Q172,577 167,580 L157.200,585.500"/>
<path class="wi" d="M176.900,561.400 Q177.500,567 175,572 Q172,577 167,580 L157.200,585.500"/>
<!-- left washer -->
<ellipse class="f" cx="178" cy="611.800" rx="12.400" ry="23.400" transform="rotate(16.700 178 611.800)"/>
<ellipse class="f" cx="180.300" cy="610.600" rx="12.200" ry="23.200" transform="rotate(16.700 180.300 610.600)"/>
<ellipse class="f" cx="180.800" cy="610.800" rx="4.200" ry="10.400" transform="rotate(16.700 180.800 610.800)"/>
<path class="l" d="M179.500,601.500 Q176,611 178.500,620"/>
<!-- right washer -->
<ellipse class="f" cx="668.800" cy="832.300" rx="12" ry="23.300" transform="rotate(18.700 668.800 832.300)"/>
<ellipse class="f" cx="671" cy="831.300" rx="11.800" ry="23" transform="rotate(18.700 671 831.300)"/>
<ellipse class="f" cx="671.600" cy="832" rx="4.400" ry="10.500" transform="rotate(18.700 671.600 832)"/>
<path class="l" d="M670.300,822.500 Q667,832 669.500,841"/>
<!-- right hairpin -->
<path class="wo" d="M723.200,820.800 Q721.500,815 717.200,815.500 Q712,817.500 710.500,824.500 Q709,833 704,836.500 Q697.500,839 695,844 Q692,849 686,850 Q679,851 676.500,857 Q673.500,863 675,868 Q677,870.500 680.500,867.500 L687.300,861.200 L697.800,850.800 Q702,846.500 707,846 Q711,846 713.500,848.500"/>
<path class="wi" d="M723.200,820.800 Q721.500,815 717.200,815.500 Q712,817.500 710.500,824.500 Q709,833 704,836.500 Q697.500,839 695,844 Q692,849 686,850 Q679,851 676.500,857 Q673.500,863 675,868 Q677,870.500 680.500,867.500 L687.300,861.200 L697.800,850.800 Q702,846.500 707,846 Q711,846 713.500,848.500"/>
<path class="wo" d="M723.200,820.800 Q723.500,827 721,831.500 Q717.500,836.500 712.700,839.500 L703,844.500"/>
<path class="wi" d="M723.200,820.800 Q723.500,827 721,831.500 Q717.500,836.500 712.700,839.500 L703,844.500"/>
</g>

<!-- 12_labels.svg -->
<g id="leaders" class="l">
<path d="M113,83 L169,96"/>
<path d="M83.500,292.500 L111,250"/>
<path d="M258.500,285 L298.700,311"/>
<path d="M359.600,325.100 L356.400,347"/>
<path d="M511.500,99.200 L483.800,141"/>
<path d="M562.900,314.900 L620.700,290 L626.700,347.800"/>
<path d="M675.600,388.700 L646.600,431.600"/>
<path d="M787.700,59.900 L819.800,98.800"/>
<path d="M726.900,182.900 L757.800,219.800"/>
<path d="M695,227.700 L726.900,268.600"/>
<path d="M814.600,186.900 L845.500,225.700"/>
<path d="M874.500,511.500 L855.600,541.400"/>
<path d="M273.700,510.800 L236.800,552.700"/>
<path d="M595.600,609.800 L565.700,651.700"/>
<path d="M131.100,613.500 L104.200,653.800"/>
<path d="M168.800,632.300 L141,674.500"/>
<path d="M659.600,854.500 L631.200,898.600"/>
<path d="M677.600,871.700 L649.200,913.600"/>
</g>
<g id="labels" class="n">
<text transform="translate(170.500,101) scale(1.120,1)">7</text>
<text transform="translate(113,249.500) scale(1.120,1)">3</text>
<text transform="translate(238.500,283.500) scale(1.120,1)">10</text>
<text transform="translate(353.500,318.500) scale(1.120,1)">97</text>
<text transform="translate(515.500,97.700) scale(1.120,1)">87</text>
<text transform="translate(612.500,285.800) scale(1.120,1)">88</text>
<text transform="translate(672.500,383.700) scale(1.120,1)">2</text>
<text transform="translate(777,56.200) scale(1.120,1)">87</text>
<text transform="translate(713,177.900) scale(1.120,1)">90</text>
<text transform="translate(799.500,182.900) scale(1.120,1)">98</text>
<text transform="translate(684,222.800) scale(1.120,1)">116</text>
<text transform="translate(863.500,507.500) scale(1.120,1)">97</text>
<text transform="translate(272.500,506.900) scale(1.120,1)">91</text>
<text transform="translate(589.500,606.900) scale(1.120,1)">91</text>
<text transform="translate(90.500,672.700) scale(1.120,1)">87</text>
<text transform="translate(124,690.600) scale(1.120,1)">89</text>
<text transform="translate(616,912) scale(1.120,1)">89</text>
<text transform="translate(637.500,931.500) scale(1.120,1)">87</text>
<text class="c" x="196.500" y="869.700">lift-tex_55</text>
</g>

<!-- 20_dashdot.svg -->
<g id="dashdot">
<!-- grip box -->
<path class="dd" d="M46.2,66 L43,37.4 L61,41 L77.3,204.4 L99.7,208.9 L96,164.5"/>
<!-- left zigzag -->
<path class="dd" d="M406,213 L309.7,172.5 L308.5,275 L217,237.5 L225,400 L230.5,475"/>
<!-- torsion spring axis -->
<path class="dd" d="M276,350 L378,262"/>
<!-- tab hole to hairpin -->
<path class="dd" d="M404,237 L471,176.500"/>
<!-- right tab line -->
<path class="dd" d="M459,233.500 L537,265"/>
<!-- slot line -->
<path class="dd" d="M439.500,284.700 L537,321"/>
<path class="dd" d="M477.500,307 L608,355"/>
<!-- small block dash -->
<path class="dd" d="M467,400.500 L482,406.500"/>
<!-- bolt97 left -->
<path class="dd" d="M382,368.400 L412,378"/>
<!-- right zigzag -->
<path class="dd" d="M794.8,364 L849,384.500 M866,391 L921.5,411.5 L879.4,455.5 L950.5,485.5 L828.5,598.6 L655,534.2 L665.5,581.8 L535,537.700 L541.600,583.600 L477.500,565"/>
<path class="dd" d="M708,493 L748,507"/>
<path class="dd" d="M805.700,530.500 L823,537"/>
<!-- rod 98 -->
<path class="dd" d="M879.600,119.500 L909.700,129.700 M925.700,136.700 L945,144"/>
<path class="dd" d="M691,273.600 L717.900,283.600 M733,289.500 L742,293"/>
<path class="dd" d="M752.800,269.600 L752.800,291.500"/>
</g>

</svg>
</body></html>
